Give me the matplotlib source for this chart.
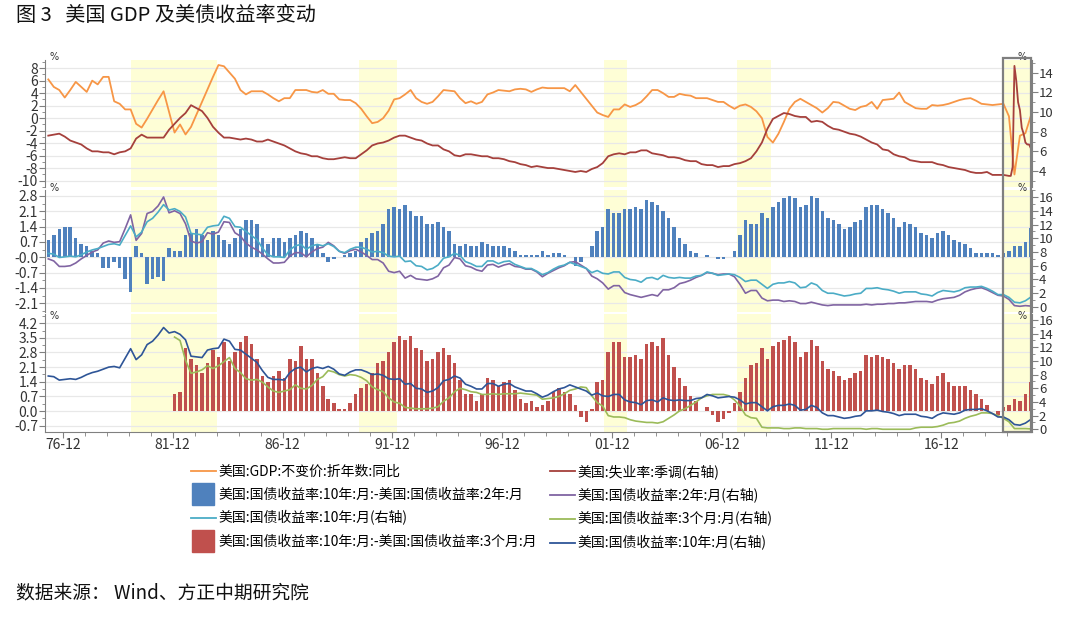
import numpy as np
import matplotlib.pyplot as plt
from matplotlib.lines import Line2D
from matplotlib.patches import Rectangle
from matplotlib.transforms import blended_transform_factory
from matplotlib.ticker import MultipleLocator, FixedLocator

plt.rcParams['font.family'] = ['Noto Sans CJK SC', 'DejaVu Sans']
plt.rcParams['axes.unicode_minus'] = False

# quarterly series, first value = 1976Q2 (last = 2021Q1)
q_start = 1976.25

gdp_yoy = [
    6.2, 5.0, 4.5,
    3.3, 4.5, 5.8, 5.0,
    4.2, 6.0, 5.4, 6.6,
    6.6, 2.7, 2.3, 1.4,
    1.4, -0.9, -1.5, -0.1,
    1.4, 2.9, 4.3, 1.0,
    -2.3, -1.0, -2.6, -1.4,
    0.6, 2.6, 4.6, 6.6,
    8.5, 8.3, 7.3, 6.3,
    4.5, 3.8, 4.3, 4.3,
    4.3, 3.8, 3.2, 2.7,
    3.2, 3.2, 4.5, 4.5,
    4.5, 4.2, 4.1, 4.5,
    3.9, 3.9, 3.0, 2.9,
    2.9, 2.4, 1.5, 0.3,
    -0.8, -0.6, 0.0, 1.2,
    3.0, 3.2, 3.8, 4.5,
    3.2, 2.6, 2.3, 2.6,
    3.5, 4.5, 4.4, 4.3,
    3.2, 2.4, 2.7, 2.3,
    2.6, 3.8, 4.1, 4.5,
    4.4, 4.3, 4.6, 4.7,
    4.6, 4.2, 4.6, 4.9,
    4.8, 4.8, 4.8, 4.8,
    4.3, 5.3, 4.2, 3.1,
    2.0, 0.9, 0.5, 0.2,
    1.4, 1.4, 2.2, 1.8,
    2.1, 2.6, 3.5, 4.5,
    4.5, 4.0, 3.4, 3.4,
    3.9, 3.7, 3.6, 3.2,
    3.2, 3.2, 2.9, 2.6,
    2.6, 2.0, 1.5, 2.0,
    2.2, 1.8, 1.1, 0.0,
    -3.0, -3.9, -2.5, -0.6,
    1.5, 2.6, 3.1, 2.6,
    2.1, 1.6, 0.9, 1.6,
    2.6, 2.5, 2.0, 1.5,
    1.3, 1.8, 2.0, 2.6,
    1.5, 2.9, 3.0, 3.1,
    4.1, 2.6, 2.1, 1.6,
    1.5, 1.5, 2.1, 2.0,
    2.1, 2.3, 2.6, 2.9,
    3.1, 3.2, 2.8, 2.3,
    2.2, 2.1, 2.2, 2.3,
    0.3, -9.0, -2.8, -2.4,
    0.4,
]

# unemployment: quarterly 1976Q2..2019Q4, then monthly 2020-01..2021-03
unemp_q = [
    7.6, 7.7, 7.8,
    7.5, 7.1, 6.9, 6.7,
    6.3, 6.0, 6.0, 5.9,
    5.9, 5.7, 5.9, 6.0,
    6.3, 7.3, 7.7, 7.4,
    7.4, 7.4, 7.4, 8.2,
    8.8, 9.4, 9.9, 10.7,
    10.4, 10.1, 9.4, 8.5,
    7.9, 7.4, 7.4, 7.3,
    7.2, 7.3, 7.2, 7.0,
    7.0, 7.2, 7.0, 6.8,
    6.6, 6.3, 6.0, 5.8,
    5.7, 5.5, 5.5, 5.3,
    5.2, 5.2, 5.3, 5.4,
    5.3, 5.3, 5.7, 6.1,
    6.6, 6.8, 6.9, 7.1,
    7.4, 7.6, 7.6, 7.4,
    7.2, 7.1, 6.8, 6.6,
    6.6, 6.2, 6.0, 5.6,
    5.5, 5.7, 5.7, 5.6,
    5.5, 5.5, 5.3, 5.3,
    5.2, 5.0, 4.9, 4.7,
    4.6, 4.4, 4.5, 4.4,
    4.3, 4.3, 4.2, 4.1,
    4.0, 3.9, 4.0, 3.9,
    4.2, 4.4, 4.8, 5.5,
    5.7, 5.8, 5.7, 5.9,
    5.9, 6.1, 6.1, 5.8,
    5.7, 5.6, 5.4, 5.4,
    5.3, 5.1, 5.0, 5.0,
    4.7, 4.6, 4.6, 4.4,
    4.5, 4.5, 4.7, 4.8,
    5.0, 5.3, 6.0, 6.9,
    8.3, 9.3, 9.6, 9.9,
    9.8, 9.6, 9.5, 9.5,
    9.0, 9.1, 9.0, 8.6,
    8.3, 8.2, 8.0, 7.8,
    7.7, 7.5, 7.2, 6.9,
    6.7, 6.2, 6.1, 5.7,
    5.5, 5.4, 5.1, 5.0,
    4.9, 4.9, 4.9, 4.7,
    4.6, 4.4, 4.3, 4.2,
    4.1, 3.9, 3.8, 3.8,
    3.9, 3.6, 3.6, 3.6,
]
unemp_m = [3.5, 3.5, 4.4, 14.7, 13.2, 11.0, 10.2, 8.4, 7.8, 6.9, 6.7, 6.7,
           6.3, 6.2, 6.0]

# 10y treasury yield, 1976Q2..2021Q1
ust10y = [
    7.8, 7.7, 7.2,
    7.3, 7.4, 7.3, 7.6,
    8.0, 8.3, 8.5, 8.8,
    9.1, 9.2, 9.0, 10.4,
    11.8, 10.2, 10.9, 12.4,
    12.9, 13.8, 14.9, 14.1,
    14.3, 13.9, 13.1, 10.7,
    10.6, 10.5, 11.6, 11.8,
    11.9, 13.2, 12.9, 11.7,
    11.6, 11.0, 10.4, 9.8,
    8.6, 7.6, 7.3, 7.3,
    7.2, 8.3, 8.9, 9.1,
    8.4, 8.9, 9.1, 8.9,
    9.2, 8.8, 8.1, 7.9,
    8.4, 8.7, 8.7, 8.4,
    8.0, 8.1, 7.9, 7.4,
    7.3, 7.4, 6.6, 6.7,
    6.0, 5.9, 5.4, 5.6,
    6.1, 7.1, 7.3, 7.8,
    7.5, 6.6, 6.3, 5.9,
    5.9, 6.7, 6.7, 6.3,
    6.6, 6.7, 6.2, 5.9,
    5.6, 5.6, 5.2, 4.7,
    5.0, 5.5, 5.9, 6.1,
    6.5, 6.2, 5.9, 5.6,
    5.0, 5.3, 4.9, 4.8,
    5.1, 5.1, 4.3, 4.0,
    3.9, 3.6, 4.2, 4.3,
    4.0, 4.6, 4.3, 4.2,
    4.3, 4.2, 4.2, 4.5,
    4.6, 5.1, 4.9, 4.6,
    4.7, 4.8, 4.7, 4.3,
    3.7, 3.9, 3.9, 3.3,
    2.7, 3.3, 3.5, 3.5,
    3.7, 3.5, 2.8, 2.9,
    3.5, 3.2, 2.4, 2.0,
    2.0, 1.8, 1.6, 1.7,
    1.9, 2.0, 2.7, 2.7,
    2.8, 2.6, 2.5, 2.3,
    2.0, 2.2, 2.2, 2.2,
    1.9, 1.8, 1.6, 2.1,
    2.4, 2.3, 2.2, 2.4,
    2.8, 2.9, 2.9, 3.0,
    2.7, 2.3, 1.8, 1.8,
    1.4, 0.7, 0.6, 0.9,
    1.45,
]

# 2y treasury yield, 1976Q2..2021Q1
ust2y = [
    7.0, 6.7, 5.9,
    5.9, 6.0, 6.4, 7.0,
    7.5, 8.0, 8.3, 9.3,
    9.6, 9.4, 9.5, 11.4,
    13.4, 9.7, 10.7, 13.6,
    13.9, 14.7, 16.0, 13.7,
    14.0, 13.6, 12.1, 9.6,
    9.3, 9.5, 10.8, 10.6,
    10.9, 12.4, 12.3, 10.8,
    10.3, 9.3, 8.7, 8.3,
    7.7, 7.0, 6.4, 6.4,
    6.5, 7.4, 7.9, 7.9,
    7.3, 8.0, 8.5, 8.7,
    9.4, 8.9, 8.1, 7.8,
    8.2, 8.4, 8.0, 7.5,
    6.9, 6.9, 6.4, 5.2,
    5.0, 5.2, 4.2, 4.6,
    4.1, 4.0, 3.9, 4.1,
    4.5, 5.7, 6.1, 7.2,
    7.0, 6.0, 5.8, 5.4,
    5.2, 6.1, 6.2, 5.8,
    6.1, 6.3, 5.9, 5.8,
    5.5, 5.5, 5.1, 4.4,
    4.9, 5.3, 5.7, 6.0,
    6.5, 6.6, 6.1, 5.6,
    4.5, 4.1, 3.5, 2.6,
    3.1, 3.1, 2.1, 1.8,
    1.6, 1.4, 1.6, 1.8,
    1.6, 2.5, 2.5, 2.8,
    3.4, 3.6, 3.9, 4.3,
    4.6, 5.0, 4.9, 4.7,
    4.8, 4.8, 4.4, 3.3,
    2.0, 2.4, 2.4, 1.3,
    0.9, 1.0, 1.0, 0.8,
    0.9, 0.8, 0.5, 0.5,
    0.7, 0.5, 0.3, 0.2,
    0.3, 0.3, 0.3, 0.3,
    0.3, 0.3, 0.4, 0.3,
    0.4, 0.4, 0.5, 0.5,
    0.6, 0.6, 0.7, 0.8,
    0.8, 0.8, 0.7, 1.0,
    1.2, 1.3, 1.4, 1.7,
    2.2, 2.5, 2.7, 2.8,
    2.5, 2.1, 1.7, 1.6,
    1.1, 0.2, 0.1, 0.2,
    0.13,
]

# 3m treasury yield, 1982Q1..2021Q1
ust3m_start = 1982.0
ust3m = [
    13.5, 13.0, 10.1, 8.2,
    8.4, 8.7, 9.3, 8.9,
    9.3, 9.9, 10.5, 8.9,
    8.3, 7.4, 7.2, 7.3,
    6.9, 6.2, 5.6, 5.4,
    5.6, 5.8, 6.5, 6.0,
    5.9, 6.4, 7.3, 7.7,
    8.6, 8.4, 8.0, 7.8,
    8.0, 7.9, 7.6, 7.1,
    6.2, 5.8, 5.5, 4.6,
    4.0, 3.8, 3.2, 3.1,
    3.0, 3.0, 3.0, 3.1,
    3.3, 4.1, 4.6, 5.5,
    6.0, 5.8, 5.5, 5.4,
    5.1, 5.1, 5.2, 5.1,
    5.2, 5.2, 5.2, 5.3,
    5.2, 5.1, 5.0, 4.4,
    4.5, 4.6, 4.8, 5.2,
    5.7, 5.9, 6.2, 6.1,
    4.9, 3.9, 3.4, 2.0,
    1.8, 1.8, 1.7, 1.4,
    1.2, 1.1, 1.0, 1.0,
    0.9, 1.1, 1.6, 2.1,
    2.7, 3.0, 3.5, 4.0,
    4.6, 4.9, 5.1, 5.1,
    5.1, 4.9, 4.3, 3.4,
    2.1, 1.7, 1.6, 0.3,
    0.2, 0.2, 0.2, 0.1,
    0.1, 0.2, 0.2, 0.1,
    0.1, 0.1, 0.0, 0.0,
    0.1, 0.1, 0.1, 0.1,
    0.1, 0.1, 0.0, 0.1,
    0.1, 0.0, 0.0, 0.0,
    0.0, 0.0, 0.0, 0.2,
    0.3, 0.3, 0.3, 0.4,
    0.6, 0.9, 1.0, 1.2,
    1.6, 1.9, 2.1, 2.4,
    2.4, 2.3, 2.0, 1.6,
    1.1, 0.1, 0.1, 0.1,
    0.05,
]

# shaded periods (decimal years)
shade_periods = [(1980.0, 1983.92), (1990.42, 1992.15), (2001.56, 2002.6),
                 (2007.6, 2009.15), (2019.75, 2021.0)]

xtick_years = [1976, 1981, 1986, 1991, 1996, 2001, 2006, 2011, 2016]
xtick_labels = ['76-12', '81-12', '86-12', '91-12', '96-12', '01-12',
                '06-12', '11-12', '16-12']

c_gdp = '#F79646'
c_unemp = '#A5403C'
c_bar2 = '#4F81BD'
c_2y = '#8064A2'
c_10y_a = '#4BACC6'
c_bar3 = '#C0504D'
c_3m = '#9BBB59'
c_10y_b = '#2E5597'
c_shade = '#FEFED6'
c_axis = '#808080'

# derived arrays
tq = q_start + 0.25 * np.arange(len(gdp_yoy))
tu = np.concatenate([q_start + 0.25 * np.arange(len(unemp_q)),
                     2020.0 + np.arange(len(unemp_m)) / 12.0])
unemp = np.concatenate([unemp_q, unemp_m])
ten = np.array(ust10y)
two = np.array(ust2y)
t3 = ust3m_start + 0.25 * np.arange(len(ust3m))
three = np.array(ust3m)
ten_from82 = ten[tq >= ust3m_start - 1e-9]
sp2 = ten - two
sp3 = ten_from82 - three

fig = plt.figure(figsize=(10.8, 6.27), dpi=100)


def fy(px):
    return 1 - px / 627.0


L = 45 / 1080.0
W = (1032 - 45) / 1080.0
ax1 = fig.add_axes([L, fy(187), W, (187 - 60) / 627.0])
ax2 = fig.add_axes([L, fy(312), W, (312 - 190) / 627.0])
ax3 = fig.add_axes([L, fy(432), W, (432 - 314) / 627.0])
ax1r = ax1.twinx()
ax2r = ax2.twinx()
ax3r = ax3.twinx()

xlim = (1976.1, 2021.05)

for ax in (ax1, ax2, ax3):
    ax.set_xlim(*xlim)
    for a, b in shade_periods:
        ax.axvspan(a, b, color=c_shade, zorder=0, lw=0)
    ax.spines['top'].set_visible(False)
    ax.spines['right'].set_visible(False)
    ax.spines['left'].set_color(c_axis)
    ax.spines['bottom'].set_color(c_axis)
    ax.yaxis.grid(True, color='#E8E8E8', lw=0.9, zorder=0.5)
    ax.set_axisbelow(True)
    ax.tick_params(axis='y', which='major', direction='out', length=4,
                   color=c_axis, labelsize=10, labelcolor='#333333', pad=1)
    ax.tick_params(axis='y', which='minor', direction='out', length=2.5,
                   color=c_axis)

for ax in (ax1r, ax2r, ax3r):
    ax.set_xlim(*xlim)
    for s in ('top', 'left', 'bottom'):
        ax.spines[s].set_visible(False)
    ax.spines['right'].set_color(c_axis)
    ax.tick_params(axis='y', which='major', direction='out', length=4,
                   color=c_axis, labelsize=9.5, labelcolor='#333333', pad=1)
    ax.tick_params(axis='y', which='minor', direction='out', length=2.5,
                   color=c_axis)

for ax in (ax1, ax2):
    ax.spines['bottom'].set_visible(False)
    ax.set_xticks([])
for ax in (ax1r, ax2r, ax3r):
    ax.set_xticks([])

# panel 1: GDP and unemployment
ax1.plot(tq, gdp_yoy, color=c_gdp, lw=1.3, zorder=3)
ax1r.plot(tu, unemp, color=c_unemp, lw=1.3, zorder=3)
ax1.set_ylim(-11.0, 9.3)
ax1.yaxis.set_major_locator(FixedLocator(np.arange(-10, 9, 2)))
ax1.yaxis.set_minor_locator(MultipleLocator(1))
ax1r.set_ylim(2.37, 15.3)
ax1r.yaxis.set_major_locator(FixedLocator(np.arange(4, 15, 2)))
ax1r.yaxis.set_minor_locator(MultipleLocator(1))

# panel 2: 10y-2y spread
ax2.bar(tq, sp2, width=0.16, color=c_bar2, lw=0, zorder=2)
ax2r.plot(tq, two, color=c_2y, lw=1.2, zorder=3)
ax2r.plot(tq, ten, color=c_10y_a, lw=1.2, zorder=3)
ax2.set_ylim(-2.5, 3.07)
yt2 = np.round(np.arange(-2.1, 2.81, 0.7), 1)
ax2.yaxis.set_major_locator(FixedLocator(yt2))
ax2.set_yticklabels(['%.1f' % v for v in yt2])
ax2.yaxis.set_minor_locator(MultipleLocator(0.35))
ax2r.set_ylim(-0.73, 17.02)
ax2r.yaxis.set_major_locator(FixedLocator(np.arange(0, 17, 2)))
ax2r.yaxis.set_minor_locator(MultipleLocator(1))

# panel 3: 10y-3m spread
ax3.bar(t3, sp3, width=0.16, color=c_bar3, lw=0, zorder=2)
ax3r.plot(t3, three, color=c_3m, lw=1.2, zorder=3)
ax3r.plot(tq, ten, color=c_10y_b, lw=1.2, zorder=3)
ax3.set_ylim(-1.0, 4.64)
yt3 = np.round(np.arange(-0.7, 4.21, 0.7), 1)
ax3.yaxis.set_major_locator(FixedLocator(yt3))
ax3.set_yticklabels(['%.1f' % v for v in yt3])
ax3.yaxis.set_minor_locator(MultipleLocator(0.35))
ax3r.set_ylim(-0.4, 16.88)
ax3r.yaxis.set_major_locator(FixedLocator(np.arange(0, 17, 2)))
ax3r.yaxis.set_minor_locator(MultipleLocator(1))

ax3.set_xticks([y + 11 / 12.0 for y in xtick_years])
ax3.set_xticklabels(xtick_labels)
ax3.xaxis.set_minor_locator(FixedLocator(np.arange(1977, 2021) - 1 / 12.0))
ax3.tick_params(axis='x', which='major', direction='out', length=4,
                color=c_axis, labelsize=10, labelcolor='#333333', pad=0)
ax3.tick_params(axis='x', which='minor', direction='out', length=3,
                color=c_axis)

# box around the latest period, spanning all panels
tr = blended_transform_factory(ax3.transData, fig.transFigure)
a, b = shade_periods[-1]
fig.patches.append(Rectangle((a, fy(432)), b - a, (432 - 58) / 627.0,
                             transform=tr, fill=False, edgecolor='#7F7F7F',
                             lw=1.6, zorder=10))

# "%" unit marks
for top in (57, 188, 316):
    fig.text(50 / 1080.0, fy(top), '%', fontsize=7, color='#333333',
             ha='left', va='center', family='DejaVu Sans')
    fig.text(1027 / 1080.0, fy(top), '%', fontsize=7, color='#333333',
             ha='right', va='center', family='DejaVu Sans')


# legend
def line_h(c):
    return Line2D([], [], color=c, lw=1.3)


def box_h(c):
    return Line2D([], [], color=c, marker='s', ms=16, ls='none')


handles = [line_h(c_gdp), box_h(c_bar2), line_h(c_10y_a), box_h(c_bar3),
           line_h(c_unemp), line_h(c_2y), line_h(c_3m), line_h(c_10y_b)]
labels = ['美国:GDP:不变价:折年数:同比',
          '美国:国债收益率:10年:月:-美国:国债收益率:2年:月',
          '美国:国债收益率:10年:月(右轴)',
          '美国:国债收益率:10年:月:-美国:国债收益率:3个月:月',
          '美国:失业率:季调(右轴)',
          '美国:国债收益率:2年:月(右轴)',
          '美国:国债收益率:3个月:月(右轴)',
          '美国:国债收益率:10年:月(右轴)']
fig.legend(handles, labels, ncol=2, loc='upper left',
           bbox_to_anchor=(184 / 1080.0, fy(457)), frameon=False,
           fontsize=10, handlelength=1.8, handletextpad=0.2,
           columnspacing=0.9, labelspacing=0.64, borderpad=0)

fig.text(16 / 1080.0, fy(15), '图 3   美国 GDP 及美债收益率变动', fontsize=14.5,
         ha='left', va='center', color='#111111')
fig.text(16 / 1080.0, fy(593), '数据来源： Wind、方正中期研究院', fontsize=13.5,
         ha='left', va='center', color='#111111', style='italic')

fig.savefig('out.png', dpi=100)
